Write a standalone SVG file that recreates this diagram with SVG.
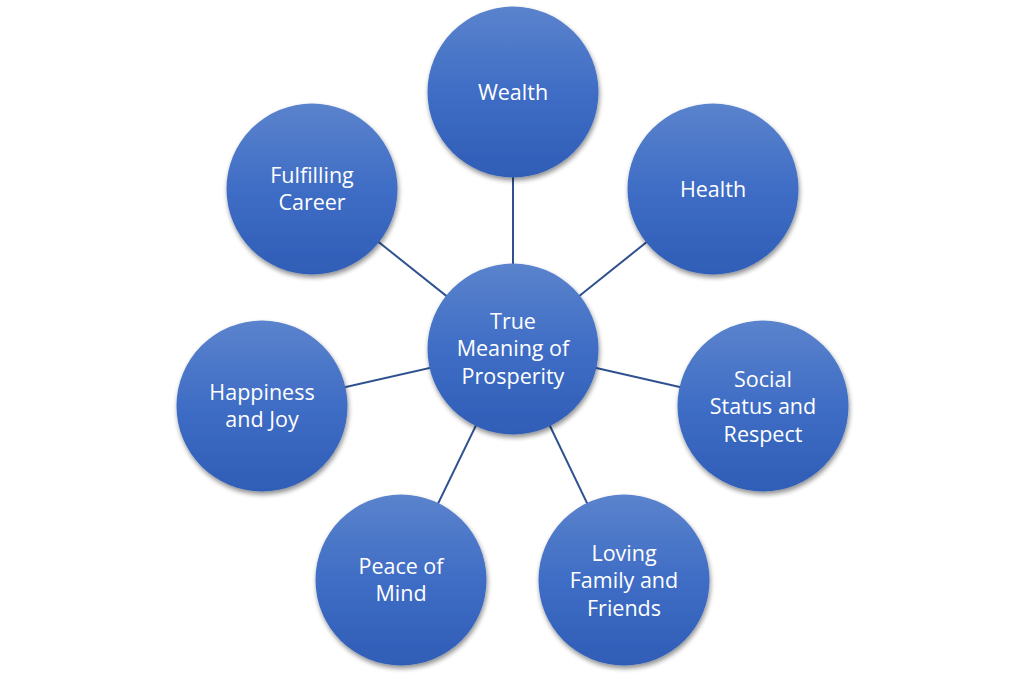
<svg xmlns="http://www.w3.org/2000/svg" width="1027" height="679" viewBox="0 0 1027 679">
<defs>
<linearGradient id="g" x1="0" y1="0" x2="0" y2="1">
<stop offset="0" stop-color="#5B83CD"/>
<stop offset="0.5" stop-color="#3F6DC5"/>
<stop offset="1" stop-color="#2F5DB6"/>
</linearGradient>
<filter id="sh" x="-20%" y="-20%" width="150%" height="150%">
<feGaussianBlur in="SourceAlpha" stdDeviation="2.5"/>
<feOffset dx="1" dy="3" result="b"/>
<feComponentTransfer><feFuncA type="linear" slope="0.45"/></feComponentTransfer>
<feMerge><feMergeNode/><feMergeNode in="SourceGraphic"/></feMerge>
</filter>
</defs>
<style>
.n{fill:url(#g);filter:url(#sh)}
.t{font-family:"Open Sans","Liberation Sans",sans-serif;font-size:21.5px;fill:#fff;text-anchor:middle}
.c line{stroke:#2F528F;stroke-width:2}
</style>
<rect width="1027" height="679" fill="#fff"/>
<g class="c" id="connectors">
<line x1="513" y1="349" x2="513" y2="92"/>
<line x1="513" y1="349" x2="713" y2="189"/>
<line x1="513" y1="349" x2="763" y2="406"/>
<line x1="513" y1="349" x2="624" y2="580"/>
<line x1="513" y1="349" x2="401" y2="580"/>
<line x1="513" y1="349" x2="262" y2="406"/>
<line x1="513" y1="349" x2="312" y2="189"/>
</g>
<g id="center"><circle class="n" cx="513" cy="349" r="85.5"/><text class="t" x="513" y="329">True</text><text class="t" x="513" y="356">Meaning of</text><text class="t" x="513" y="384">Prosperity</text></g>
<g id="wealth"><circle class="n" cx="513" cy="92" r="85.5"/><text class="t" x="513" y="100">Wealth</text></g>
<g id="health"><circle class="n" cx="713" cy="189" r="85.5"/><text class="t" x="713" y="197">Health</text></g>
<g id="social"><circle class="n" cx="763" cy="406" r="85.5"/><text class="t" x="763" y="387">Social</text><text class="t" x="763" y="414">Status and</text><text class="t" x="763" y="442">Respect</text></g>
<g id="loving"><circle class="n" cx="624" cy="580" r="85.5"/><text class="t" x="624" y="561">Loving</text><text class="t" x="624" y="588">Family and</text><text class="t" x="624" y="616">Friends</text></g>
<g id="peace"><circle class="n" cx="401" cy="580" r="85.5"/><text class="t" x="401" y="574">Peace of</text><text class="t" x="401" y="601">Mind</text></g>
<g id="happiness"><circle class="n" cx="262" cy="406" r="85.5"/><text class="t" x="262" y="400">Happiness</text><text class="t" x="262" y="427">and Joy</text></g>
<g id="career"><circle class="n" cx="312" cy="189" r="85.5"/><text class="t" x="312" y="183">Fulfilling</text><text class="t" x="312" y="210">Career</text></g>
</svg>
